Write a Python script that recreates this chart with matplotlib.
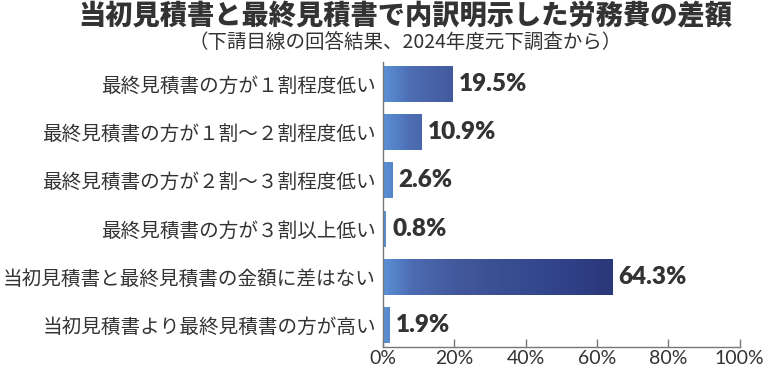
import numpy as np
import matplotlib
matplotlib.use("Agg")
import matplotlib.pyplot as plt
from matplotlib.colors import LinearSegmentedColormap

plt.rcParams['font.family'] = ['Noto Sans CJK JP', 'DejaVu Sans']

categories = [
    "最終見積書の方が１割程度低い",
    "最終見積書の方が１割～２割程度低い",
    "最終見積書の方が２割～３割程度低い",
    "最終見積書の方が３割以上低い",
    "当初見積書と最終見積書の金額に差はない",
    "当初見積書より最終見積書の方が高い",
]
values = [19.5, 10.9, 2.6, 0.8, 64.3, 1.9]
xticks = [0, 20, 40, 60, 80, 100]
xtick_labels = ["0%", "20%", "40%", "60%", "80%", "100%"]
title = "当初見積書と最終見積書で内訳明示した労務費の差額"
subtitle = "（下請目線の回答結果、2024年度元下調査から）"

text_color = "#333333"
cmap = LinearSegmentedColormap.from_list("grad", [
    (0.0, "#5b90d4"), (0.08, "#4d6cb2"), (0.2, "#42599c"),
    (0.33, "#3a4f92"), (0.5, "#31428a"), (0.64, "#2b3879"), (1.0, "#283370")])

fig = plt.figure(figsize=(7.65, 3.71), dpi=100)
ax = fig.add_axes([0.5007, 0.0647, 0.4660, 0.7683])

y = np.arange(len(categories))
bars = ax.barh(y, values, height=0.75, color="none", edgecolor="none")
grad = np.linspace(0, 1, 512).reshape(1, -1)
for b in bars:
    y0 = b.get_y()
    h = b.get_height()
    im = ax.imshow(grad, cmap=cmap, aspect="auto", extent=(0, 100, y0 + h, y0),
                   interpolation="bilinear", zorder=2)
    im.set_clip_path(b)

for yi, v in zip(y, values):
    ax.text(v + 1.8, yi, f"{v}%", va="center", ha="left", fontsize=17.5,
            fontweight="heavy", color=text_color, family=["Lato", "DejaVu Sans"])

ax.set_xlim(0, 100)
ax.set_ylim(len(categories) - 1 + 0.456, -0.456)
ax.set_yticks(y)
ax.set_yticklabels(categories, fontsize=14.1, color=text_color)
ax.tick_params(axis="y", length=0, pad=5)
ax.set_xticks(xticks)
ax.set_xticklabels(xtick_labels, fontsize=14, color=text_color, family=["Lato", "DejaVu Sans"])
ax.tick_params(axis="x", direction="in", length=6, width=1, color="#777777", pad=2)
for s in ["top", "right"]:
    ax.spines[s].set_visible(False)
for s in ["left", "bottom"]:
    ax.spines[s].set_color("#777777")
    ax.spines[s].set_linewidth(1)

fig.text(0.53, 0.958, title, ha="center", va="center", fontsize=19.6,
         fontweight="heavy", color=text_color)
fig.text(0.53, 0.882, subtitle, ha="center", va="center", fontsize=14,
         color=text_color)

fig.savefig("out.png", dpi=100)
